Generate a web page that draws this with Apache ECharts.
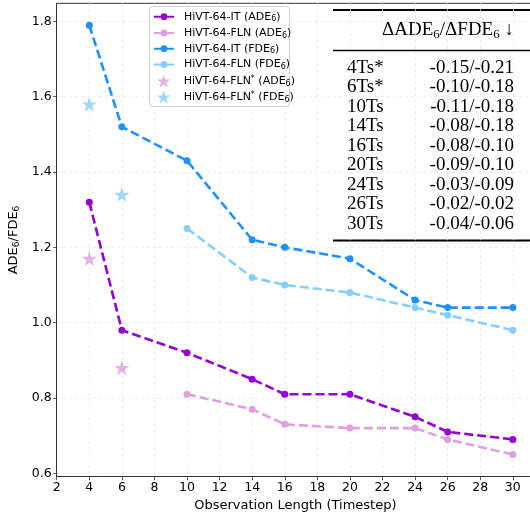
<!DOCTYPE html>
<html><head><meta charset="utf-8">
<script src="https://cdn.jsdelivr.net/npm/echarts@6/dist/echarts.min.js"></script>
<style>html,body{margin:0;padding:0;background:#fff}#c{width:530px;height:516px}</style>
</head><body><div id="c"></div>
<script>
// ---- data ----
const xIT = [4, 6, 10, 14, 16, 20, 24, 26, 30];
const itADE = [1.32, 0.98, 0.92, 0.85, 0.81, 0.81, 0.75, 0.71, 0.69];
const itFDE = [1.79, 1.52, 1.43, 1.22, 1.20, 1.17, 1.06, 1.04, 1.04];
const xFLN = [10, 14, 16, 20, 24, 26, 30];
const flnADE = [0.81, 0.77, 0.73, 0.72, 0.72, 0.69, 0.65];
const flnFDE = [1.25, 1.12, 1.10, 1.08, 1.04, 1.02, 0.98];
const xStar = [4, 6];
const starADE = [1.17, 0.88];
const starFDE = [1.58, 1.34];
const xTicks = [2, 4, 6, 8, 10, 12, 14, 16, 18, 20, 22, 24, 26, 28, 30];
const yTicks = [0.6, 0.8, 1.0, 1.2, 1.4, 1.6, 1.8];
const seriesNames = ['HiVT-64-IT (ADE_6)', 'HiVT-64-FLN (ADE_6)', 'HiVT-64-IT (FDE_6)', 'HiVT-64-FLN (FDE_6)', 'HiVT-64-FLN* (ADE_6)', 'HiVT-64-FLN* (FDE_6)'];
const tableHeader = 'ΔADE{s|6}/ΔFDE{s|6} ↓';
const tableRows = ['4Ts*', '6Ts*', '10Ts', '14Ts', '16Ts', '20Ts', '24Ts', '26Ts', '30Ts'];
const tableVals = ['-0.15/-0.21', '-0.10/-0.18', '-0.11/-0.18', '-0.08/-0.18', '-0.08/-0.10', '-0.09/-0.10', '-0.03/-0.09', '-0.02/-0.02', '-0.04/-0.06'];

const C = { itA: '#9400D3', flnA: '#DDA0DD', itF: '#1E90FF', flnF: '#87CEFA' };
const STAR = 'path://M50,0 L61.8,35.4 L97.6,35.4 L68.6,57.3 L79.4,92.7 L50,70.8 L20.6,92.7 L31.4,57.3 L2.4,35.4 L38.2,35.4 Z';
const pairs = (xs, ys) => xs.map((x, i) => [x, ys[i]]);

function lineSeries(name, xs, ys, color, z) {
  return {
    name, type: 'line', data: pairs(xs, ys), z,
    symbol: 'circle', symbolSize: 7, showSymbol: true,
    itemStyle: { color },
    lineStyle: { color, width: 2.6, type: [9, 4] },
    animation: false
  };
}
function starSeries(name, xs, ys, color) {
  return {
    name, type: 'scatter', data: pairs(xs, ys), symbol: STAR, symbolSize: 15,
    itemStyle: { color }, animation: false
  };
}

const gridLine = { show: true, lineStyle: { color: '#e6e6e6', width: 0.8, type: [3, 3] } };
const fmtName = s => s.replace('*', '{sup|*}').replace('_6', '{sub|6}');

// one legend per entry so each row sits where the reference puts it
const legendRowCenters = [16.7, 33, 48.7, 64.5, 81, 97];
const legends = seriesNames.map((n, i) => ({
  orient: 'vertical', left: i < 4 ? 153 : 157, top: legendRowCenters[i] - 7, z: 6,
  data: [n], padding: 0, selectedMode: false,
  itemWidth: 20, itemHeight: i < 4 ? 8.5 : 13,
  formatter: fmtName,
  textStyle: { fontSize: 11, lineHeight: 14, color: '#000', fontFamily: 'DejaVu Sans', padding: [0, 0, 0, 5],
    rich: { sub: { fontSize: 8, fontFamily: 'DejaVu Sans', color: '#000', padding: [5, 0, 0, 0] },
            sup: { fontSize: 8, fontFamily: 'DejaVu Sans', color: '#000', padding: [0, 0, 5, 0] } } }
}));

const chart = echarts.init(document.getElementById('c'), null, { renderer: 'canvas' });
const graphics = [];
// legend frame
graphics.push({ type: 'rect', z: 5, silent: true, shape: { x: 149.5, y: 6.5, width: 140, height: 100, r: 3 },
  style: { fill: 'rgba(255,255,255,0.85)', stroke: '#cfcfcf', lineWidth: 1 } });
// table
const rowTop = 68, rowStep = 19.5, serif = '19px "Liberation Serif"';
graphics.push({ type: 'line', shape: { x1: 333, y1: 10, x2: 540, y2: 10 }, style: { stroke: '#000', lineWidth: 2 }, silent: true });
graphics.push({ type: 'line', shape: { x1: 333, y1: 50.5, x2: 540, y2: 50.5 }, style: { stroke: '#000', lineWidth: 1.3 }, silent: true });
graphics.push({ type: 'line', shape: { x1: 333, y1: 240.5, x2: 540, y2: 240.5 }, style: { stroke: '#000', lineWidth: 2 }, silent: true });
graphics.push({
  type: 'text', x: 448, y: 30, silent: true,
  style: {
    text: tableHeader, align: 'center', verticalAlign: 'middle',
    font: serif, fill: '#000',
    rich: { s: { fontSize: 13, fontFamily: 'Liberation Serif', padding: [9, 0, 0, 0] } }
  }
});
tableRows.forEach((r, i) => {
  graphics.push({ type: 'text', x: 347, y: rowTop + i * rowStep, silent: true,
    style: { text: r, align: 'left', verticalAlign: 'middle', font: serif, fill: '#000' } });
  graphics.push({ type: 'text', x: 514, y: rowTop + i * rowStep, silent: true,
    style: { text: tableVals[i], align: 'right', verticalAlign: 'middle', font: serif, fill: '#000' } });
});
// top spine
graphics.push({ type: 'line', shape: { x1: 56.7, y1: 3.3, x2: 540, y2: 3.3 }, style: { stroke: '#333', lineWidth: 1 }, silent: true });

chart.setOption({
  backgroundColor: '#fff',
  animation: false,
  textStyle: { fontFamily: 'DejaVu Sans' },
  grid: { left: 56.7, right: -4, top: 3.3, bottom: 39.3, outerBoundsMode: 'none', containLabel: false },
  xAxis: {
    type: 'value', min: 2, max: 31.3,
    name: 'Observation Length (Timestep)', nameLocation: 'middle', nameGap: 21,
    nameTextStyle: { fontSize: 13, color: '#000', fontFamily: 'DejaVu Sans' },
    axisLine: { show: true, onZero: false, lineStyle: { color: '#333', width: 1 } },
    axisTick: { show: true, length: 3.5, lineStyle: { color: '#333', width: 0.8 }, customValues: xTicks },
    axisLabel: { fontSize: 12.5, color: '#000', margin: 5, customValues: xTicks, fontFamily: 'DejaVu Sans' },
    splitLine: gridLine
  },
  yAxis: {
    type: 'value', min: 0.591, max: 1.848,
    name: '{t|ADE}{s|6}{t|/FDE}{s|6}', nameLocation: 'middle', nameGap: 28, nameRotate: 90,
    nameTextStyle: { fontSize: 13, color: '#000', fontFamily: 'DejaVu Sans',
      rich: { t: { fontSize: 13, fontFamily: 'DejaVu Sans', color: '#000' }, s: { fontSize: 9, fontFamily: 'DejaVu Sans', color: '#000', padding: [6, 0, 0, 0] } } },
    axisLine: { show: true, onZero: false, lineStyle: { color: '#333', width: 1 } },
    axisTick: { show: true, length: 3.5, lineStyle: { color: '#333', width: 0.8 }, customValues: yTicks },
    axisLabel: { fontSize: 12.5, color: '#000', margin: 5, customValues: yTicks, fontFamily: 'DejaVu Sans',
      formatter: v => v.toFixed(1) },
    splitLine: gridLine
  },
  legend: legends,
  graphic: graphics,
  series: [
    lineSeries(seriesNames[0], xIT, itADE, C.itA, 4),
    lineSeries(seriesNames[1], xFLN, flnADE, C.flnA, 3),
    lineSeries(seriesNames[2], xIT, itFDE, C.itF, 4),
    lineSeries(seriesNames[3], xFLN, flnFDE, C.flnF, 3),
    starSeries(seriesNames[4], xStar, starADE, C.flnA),
    starSeries(seriesNames[5], xStar, starFDE, C.flnF)
  ]
});
</script></body></html>
